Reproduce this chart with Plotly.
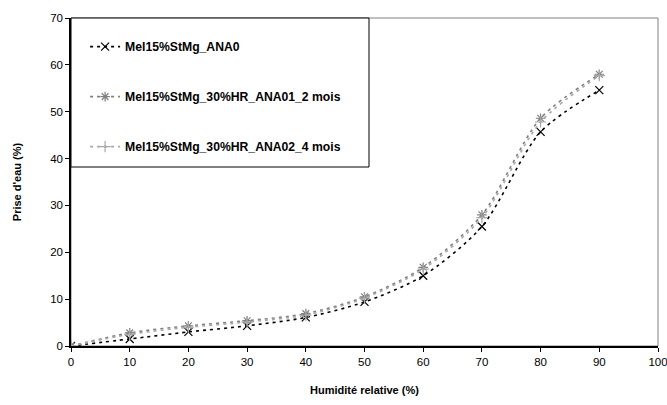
import plotly.graph_objects as go

humidite = [0, 10, 20, 30, 40, 50, 60, 70, 80, 90]
ana0 = [0, 1.5, 3.0, 4.3, 6.1, 9.4, 15.0, 25.5, 45.7, 54.6]
ana01_2mois = [0, 2.8, 4.3, 5.4, 6.9, 10.5, 16.8, 28.0, 48.6, 58.0]
ana02_4mois = [0, 2.5, 4.0, 5.1, 6.6, 10.2, 16.4, 27.4, 47.8, 57.7]

names = ["Mel15%StMg_ANA0", "Mel15%StMg_30%HR_ANA01_2 mois", "Mel15%StMg_30%HR_ANA02_4 mois"]
series = [ana0, ana01_2mois, ana02_4mois]
colors = ["#000000", "#808080", "#A8A8A8"]
symbols = ["x-thin", "asterisk", "cross-thin"]

fig = go.Figure()
for i, (n, s, c, sym) in enumerate(zip(names, series, colors, symbols)):
    fig.add_trace(go.Scatter(
        x=humidite, y=s, name=n, mode="lines+markers",
        line=dict(color=c, width=1.6, dash="3px,4px", shape="spline", smoothing=0.8),
        marker=dict(symbol=sym, size=8, color=c, line=dict(color=c, width=1.2)),
        legendgroup=f"g{i}",
    ))

font_family = "Liberation Sans, Arial, sans-serif"

fig.update_layout(
    width=667, height=405,
    margin=dict(l=71, r=9, t=18, b=59, autoexpand=False),
    paper_bgcolor="white", plot_bgcolor="white",
    font=dict(family=font_family, size=11, color="black"),
    showlegend=True,
    legend=dict(
        x=0.024, y=0.957, xanchor="left", yanchor="top",
        bgcolor="rgba(0,0,0,0)", borderwidth=0,
        font=dict(family=font_family, size=12.2, color="black", weight="bold"),
        tracegroupgap=31, itemwidth=30,
    ),
    xaxis=dict(
        range=[0, 100], tickvals=list(range(0, 101, 10)),
        showgrid=False, zeroline=False,
        showline=True, linecolor="black", linewidth=1.5,
        ticks="outside", ticklen=4, tickcolor="black",
        tickfont=dict(size=11.5), ticklabeloverflow="allow",
        title=dict(text="Humidité relative (%)", font=dict(size=11, weight="bold"), standoff=20),
    ),
    yaxis=dict(
        range=[0, 70], tickvals=list(range(0, 71, 10)),
        showgrid=False, zeroline=False,
        showline=True, linecolor="black", linewidth=1.5,
        ticks="outside", ticklen=4, tickcolor="black",
        tickfont=dict(size=11.5),
        title=dict(text="Prise d'eau (%)", font=dict(size=11, weight="bold"), standoff=26),
    ),
    shapes=[
        dict(type="rect", xref="paper", yref="paper", x0=0, y0=0, x1=1, y1=1,
             line=dict(color="#808080", width=1), layer="below"),
        dict(type="rect", xref="paper", yref="paper", x0=0, x1=(369 - 71) / 587, y0=(346 - 167) / 328, y1=1,
             line=dict(color="black", width=1), fillcolor="white", layer="above"),
    ],
)

fig.write_html("out.html", config={"displayModeBar": False},
               post_script="document.body.style.margin='0';document.body.style.overflow='hidden';")
